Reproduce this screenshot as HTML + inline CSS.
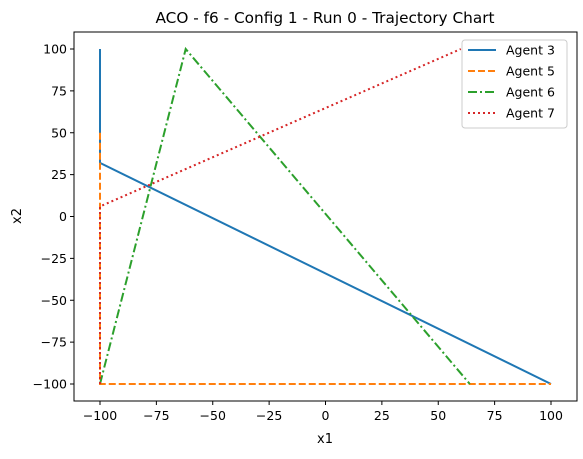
<!DOCTYPE html>
<html><head><meta charset="utf-8"><style>
body{margin:0;background:#fff;font-family:"DejaVu Sans","Liberation Sans",sans-serif;}
svg text{font-family:"DejaVu Sans","Liberation Sans",sans-serif;}
</style></head><body>
<svg width="583" height="455" id="chart">
<text x="325" y="23" text-anchor="middle" font-size="15.3">ACO - f6 - Config 1 - Run 0 - Trajectory Chart</text>
<g id="plot"></g>
<rect x="74" y="32" width="503" height="369" fill="none" stroke="#000" stroke-width="1"/>
<text x="325" y="443" text-anchor="middle" font-size="13">x1</text>
<text x="21" y="216" text-anchor="middle" font-size="13" transform="rotate(-90 21 216)">x2</text>
<g>
<rect x="462" y="40" width="105" height="88" rx="3" fill="#fff" fill-opacity="0.8" stroke="#ccc"/>
<g id="legend-items"></g>
</g>
</svg>
<script>
const ticks=[-100,-75,-50,-25,0,25,50,75,100];
const names=["Agent 3","Agent 5","Agent 6","Agent 7"];
const colors=["#1f77b4","#ff7f0e","#2ca02c","#d62728"];
const dashes=["","7,3","9,3,2,3","2,3"];
const agent3X=[-100,-100,100], agent3Y=[100,32,-100];
const agent5X=[-100,-100,100], agent5Y=[50,-100,-100];
const agent6X=[-100,-62,64], agent6Y=[-100,100,-100];
const agent7X=[-100,-100,60], agent7Y=[-100,6,100];
const xs=[agent3X,agent5X,agent6X,agent7X], ys=[agent3Y,agent5Y,agent6Y,agent7Y];
const sx=v=>325.5+v*2.255, sy=v=>216.5-v*1.675;
const NS="http://www.w3.org/2000/svg";
const plot=document.getElementById('plot');
function mk(t,a,p){const e=document.createElementNS(NS,t);for(const k in a)e.setAttribute(k,a[k]);(p||plot).appendChild(e);return e;}
ticks.forEach(t=>{
 const g=mk('g',{});
 
 
 mk('line',{x1:sx(t),x2:sx(t),y1:401,y2:405,stroke:'#000'},g);
 const tx=mk('text',{x:sx(t),y:420,'text-anchor':'middle','font-size':'12.5'},g);tx.textContent=t<0?'\u2212'+(-t):t;
 const h=mk('g',{});
 
 
 mk('line',{x1:70,x2:74,y1:sy(t),y2:sy(t),stroke:'#000'},h);
 const ty=mk('text',{x:67,y:sy(t)+4.5,'text-anchor':'end','font-size':'12.5'},h);ty.textContent=t<0?'\u2212'+(-t):t;
});
xs.forEach((X,i)=>{
 const pts=X.map((x,j)=>sx(x)+','+sy(ys[i][j])).join(' ');
 const p=mk('polyline',{points:pts,fill:'none',stroke:colors[i],'stroke-width':2,'stroke-dasharray':dashes[i]});
 
 
});
const L=document.getElementById('legend-items');
names.forEach((n,i)=>{
 const y=50+i*21;
 const g=mk('g',{},L);
 
 
 mk('line',{x1:468,x2:496,y1:y,y2:y,stroke:colors[i],'stroke-width':2,'stroke-dasharray':dashes[i]},g);
 const t=mk('text',{x:506,y:y+4.5,'font-size':'12.5'},g);t.textContent=n;
});
</script>
</body></html>
